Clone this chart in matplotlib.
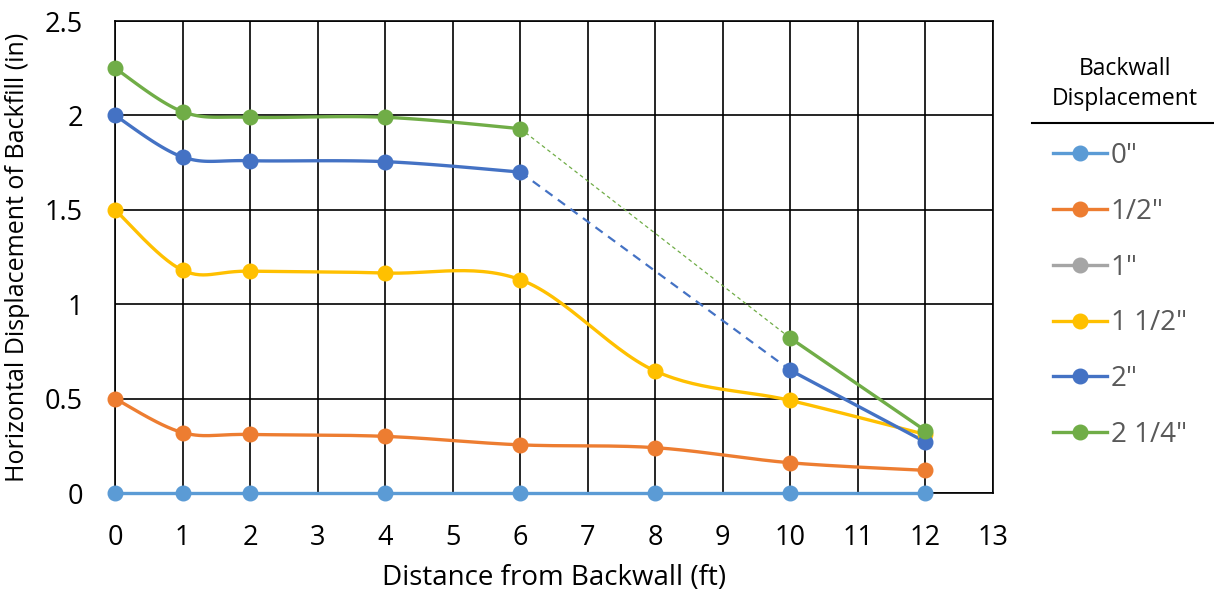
import numpy as np
import matplotlib.pyplot as plt
from matplotlib.lines import Line2D

plt.rcParams['font.family'] = ['Open Sans', 'DejaVu Sans']

# distance from backwall (ft)
dist = [0, 1, 2, 4, 6, 8, 10, 12]

d_0 = [0, 0, 0, 0, 0, 0, 0, 0]
d_half = [0.50, 0.32, 0.31, 0.30, 0.255, 0.24, 0.16, 0.12]
d_1 = []  # no data plotted
d_1half = [1.50, 1.18, 1.175, 1.165, 1.13, 0.646, 0.49, 0.31]
# 2" and 2 1/4" have no reading at 8 ft
dist_b = [0, 1, 2, 4, 6, 10, 12]
d_2 = [2.00, 1.78, 1.76, 1.755, 1.70, 0.65, 0.27]
d_2q = [2.25, 2.02, 1.99, 1.99, 1.93, 0.82, 0.33]

labels = ['0"', '1/2"', '1"', '1 1/2"', '2"', '2 1/4"']
colors = ['#5B9BD5', '#ED7D31', '#A5A5A5', '#FFC000', '#4472C4', '#70AD47']


def smooth(x, y, n=30):
    # excel-like smoothed line (bezier with 1/6 tangents)
    x = np.asarray(x, float)
    y = np.asarray(y, float)
    px = np.concatenate([[x[0]], x, [x[-1]]])
    py = np.concatenate([[y[0]], y, [y[-1]]])
    t = np.linspace(0, 1, n)
    xs, ys = [], []
    for i in range(1, len(px) - 2):
        p0 = np.array([px[i], py[i]])
        p3 = np.array([px[i + 1], py[i + 1]])
        c1 = p0 + (p3 - np.array([px[i - 1], py[i - 1]])) / 6
        c2 = p3 - (np.array([px[i + 2], py[i + 2]]) - p0) / 6
        b = ((1 - t) ** 3)[:, None] * p0 + (3 * (1 - t) ** 2 * t)[:, None] * c1 \
            + (3 * (1 - t) * t ** 2)[:, None] * c2 + (t ** 3)[:, None] * p3
        xs.append(b[:, 0])
        ys.append(b[:, 1])
    return np.concatenate(xs), np.concatenate(ys)


fig = plt.figure(figsize=(12.14, 5.98), dpi=100)
ax = fig.add_axes([115 / 1214, 1 - 493 / 598, (993 - 115) / 1214, (493 - 21) / 598])

lw = 2.4
ms = 10.5

for y, c in [(d_0, colors[0]), (d_half, colors[1]), (d_1half, colors[3])]:
    sx, sy = smooth(dist, y)
    ax.plot(sx, sy, color=c, lw=lw, zorder=3, clip_on=False)
    ax.plot(dist, y, 'o', color=c, ms=ms, zorder=4, clip_on=False)

# 2" and 2 1/4": smooth to 6 ft, dashed gap to 10 ft, straight to 12 ft
for y, c, ls, dlw in [(d_2, colors[4], (0, (4, 3)), 1.6), (d_2q, colors[5], (0, (3, 2.5)), 0.9)]:
    sx, sy = smooth(dist_b[:5], y[:5])
    ax.plot(sx, sy, color=c, lw=lw, zorder=3)
    ax.plot(dist_b[4:6], y[4:6], color=c, lw=dlw, ls=ls, zorder=3)
    ax.plot(dist_b[5:], y[5:], color=c, lw=lw, zorder=3)
    ax.plot(dist_b, y, 'o', color=c, ms=ms, zorder=4, clip_on=False)

ax.set_xlim(0, 13)
ax.set_ylim(0, 2.5)
ax.set_xticks(range(0, 14))
ax.set_yticks([0, 0.5, 1, 1.5, 2, 2.5])
ax.set_yticklabels(['0', '0.5', '1', '1.5', '2', '2.5'])
ax.grid(True, color='black', lw=1.2, zorder=1)
ax.set_axisbelow(True)
for s in ax.spines.values():
    s.set_color('black')
    s.set_linewidth(1.2)
ax.tick_params(length=0, labelsize=19.5)
ax.tick_params(axis='x', pad=22)
ax.tick_params(axis='y', pad=23)
ax.set_xlabel('Distance from Backwall (ft)', fontsize=20, labelpad=9)
ax.set_ylabel('Horizontal Displacement of Backfill (in)', fontsize=18, labelpad=11)

# legend
handles = [Line2D([], [], color=c, lw=lw, marker='o', ms=ms) for c in colors]
fig.legend(handles, labels, loc='upper left', bbox_to_anchor=(1042 / 1214, 1 - 131 / 598),
           frameon=False, fontsize=20, labelcolor='#595959', handlelength=1.95,
           handletextpad=0.12, labelspacing=1.0, borderaxespad=0)
fig.text(1125 / 1214, 1 - 84 / 598, 'Backwall\nDisplacement', ha='center', va='center',
         fontsize=16.5, linespacing=1.35)
fig.add_artist(Line2D([1032 / 1214, 1], [1 - 123 / 598, 1 - 123 / 598], color='black', lw=1.5))

fig.savefig('out.png', dpi=100)
